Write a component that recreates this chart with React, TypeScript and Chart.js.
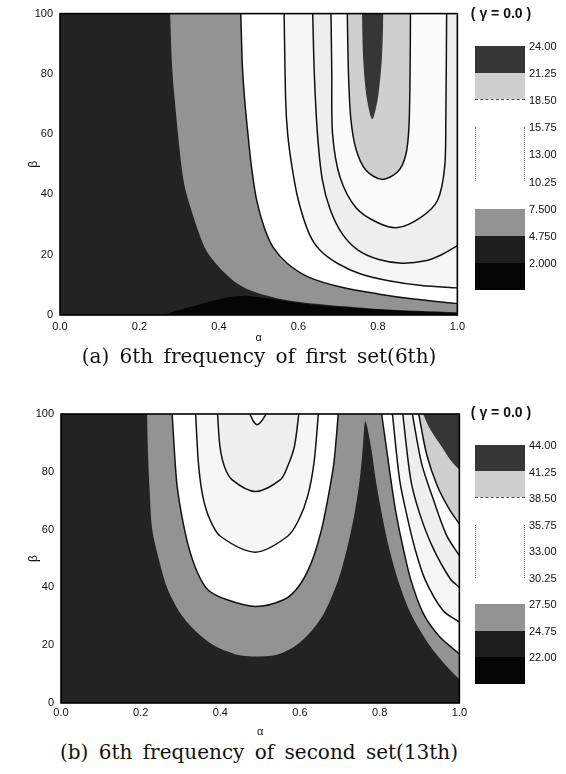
import React, { useEffect, useRef } from 'react';
import { Chart, registerables } from 'chart.js';

Chart.register(...registerables);

// ---------- shared ticks ----------
const xTickValues = [0, 0.2, 0.4, 0.6, 0.8, 1.0];
const xTickLabels = ['0.0', '0.2', '0.4', '0.6', '0.8', '1.0'];
const yTickValues = [0, 20, 40, 60, 80, 100];
const yTickLabels = ['0', '20', '40', '60', '80', '100'];

// ---------- chart (a): contour curves [alpha, beta] ----------
const a_c200 = [[0.26, 0], [0.32, 2.4], [0.38, 4.6], [0.44, 6.2], [0.5, 5.9], [0.6, 4.0], [0.7, 2.7], [0.85, 1.5], [1.0, 0.6]];
const a_c475 = [[0.277, 100], [0.282, 82.5], [0.289, 71], [0.297, 60], [0.306, 49], [0.314, 42.5], [0.323, 38], [0.336, 32.5], [0.35, 27], [0.368, 21.4], [0.4, 15.9], [0.436, 11.4], [0.48, 8.1], [0.555, 5.3], [0.645, 3.7], [0.8, 2.0], [1.0, 0.9]];
const a_c750 = [[0.455, 100], [0.459, 82.5], [0.465, 71], [0.473, 60], [0.482, 49], [0.495, 38], [0.514, 29], [0.536, 22.5], [0.573, 17], [0.627, 12.5], [0.709, 9.2], [0.8, 7], [0.89, 5.3], [1.0, 3.8]];
const a_c1025 = [[0.564, 100], [0.568, 71], [0.573, 60], [0.584, 49], [0.6, 38], [0.627, 27], [0.655, 21.4], [0.7, 17], [0.755, 13.7], [0.827, 11.4], [0.91, 9.8], [1.0, 9.0]];
const a_c1300 = [[0.636, 100], [0.64, 80], [0.648, 60], [0.66, 45], [0.68, 35], [0.71, 27], [0.75, 21.5], [0.8, 18.5], [0.86, 17.2], [0.92, 18], [0.96, 20], [1.0, 23]];
const a_c1575 = [[0.682, 100], [0.684, 80], [0.686, 60], [0.705, 45.6], [0.745, 35.6], [0.8, 30.6], [0.85, 29], [0.909, 32.5], [0.95, 38], [0.968, 49], [0.971, 65], [0.973, 100]];
const a_c1850 = [[0.723, 100], [0.726, 80], [0.732, 65], [0.745, 55], [0.77, 48], [0.81, 45], [0.85, 47.5], [0.87, 53], [0.878, 62], [0.881, 80], [0.882, 100]];
const a_c2125 = [[0.76, 100], [0.763, 85], [0.772, 72], [0.786, 65], [0.8, 72], [0.81, 85], [0.814, 100]];

const a_levels = ['24.00', '21.25', '18.50', '15.75', '13.00', '10.25', '7.500', '4.750', '2.000'];

// ---------- chart (b): contour curves [alpha, beta] ----------
const b_c2475 = [[0.216, 100], [0.218, 88], [0.222, 75], [0.229, 60], [0.248, 48.4], [0.266, 40], [0.3, 31], [0.343, 24.2], [0.388, 19.6], [0.442, 16.7], [0.488, 16.1], [0.542, 16.7], [0.587, 19.6], [0.624, 24.2], [0.66, 31], [0.696, 42.6], [0.719, 54], [0.737, 65.7], [0.75, 77.3], [0.758, 88.8], [0.764, 97.5], [0.778, 88.8], [0.79, 77.3], [0.805, 65.7], [0.823, 54], [0.846, 42.6], [0.878, 31], [0.927, 19.6], [0.968, 12.7], [1.0, 8.1]];
const b_c2750 = [[0.279, 100], [0.29, 77], [0.302, 65.7], [0.32, 54.2], [0.343, 45], [0.37, 39], [0.415, 35.8], [0.488, 33.4], [0.56, 35.8], [0.597, 40.4], [0.628, 48.4], [0.654, 60], [0.671, 71.5], [0.685, 83], [0.696, 100]];
const b_c2750r = [[0.805, 100], [0.828, 77.3], [0.841, 65.7], [0.858, 54.2], [0.878, 42.7], [0.909, 31.1], [0.95, 23], [1.0, 17]];
const b_c3025 = [[0.338, 100], [0.345, 83], [0.356, 71.5], [0.374, 63.4], [0.4, 57.7], [0.488, 52.2], [0.569, 57.7], [0.597, 63.4], [0.619, 71.5], [0.635, 83], [0.646, 100]];
const b_c3025r = [[0.832, 100], [0.85, 77.3], [0.867, 65.7], [0.887, 54.2], [0.914, 42.7], [0.959, 32], [1.0, 28]];
const b_c3300 = [[0.393, 100], [0.399, 88.8], [0.41, 81.9], [0.429, 77.3], [0.488, 73.2], [0.551, 77.3], [0.569, 81.9], [0.586, 88.8], [0.597, 100]];
const b_c3300r = [[0.858, 100], [0.878, 77.3], [0.9, 65.7], [0.932, 54.2], [0.977, 43], [1.0, 40]];
const b_c3575 = [[0.474, 100], [0.483, 97.5], [0.492, 96.3], [0.503, 97.5], [0.515, 100]];
const b_c3575r = [[0.882, 100], [0.905, 83], [0.932, 71.5], [0.968, 58], [1.0, 51]];
const b_c3850r = [[0.898, 100], [0.918, 86], [0.945, 75], [0.975, 67], [1.0, 62]];
const b_c4125r = [[0.909, 100], [0.927, 94.6], [0.955, 88.8], [0.977, 84.2], [1.0, 80.7]];

const b_levels = ['44.00', '41.25', '38.50', '35.75', '33.00', '30.25', '27.50', '24.75', '22.00'];

// ---------- styles ----------
const FONT = 'Liberation Sans, Arial, sans-serif';
const C = {
  black: '#050505',
  base: '#232323',
  gray: '#939393',
  white: '#ffffff',
  dot1: '#f6f6f6',
  dot2: '#eeeeee',
  white2: '#fbfbfb',
  light: '#cfcfcf',
  dark: '#363636',
};

type Layer = { data: number[][]; fill: string; color: string; line: boolean };

const aLayers: Layer[] = [
  { data: a_c200, fill: 'start', color: C.black, line: false },
  { data: a_c475, fill: 'end', color: C.gray, line: false },
  { data: a_c750, fill: 'end', color: C.white, line: true },
  { data: a_c1025, fill: 'end', color: C.dot1, line: true },
  { data: a_c1300, fill: 'end', color: C.dot2, line: true },
  { data: a_c1575, fill: 'end', color: C.white2, line: true },
  { data: a_c1850, fill: 'end', color: C.light, line: true },
  { data: a_c2125, fill: 'end', color: C.dark, line: false },
];

const bLayers: Layer[] = [
  { data: b_c2475, fill: 'end', color: C.gray, line: false },
  { data: b_c2750, fill: 'end', color: C.white, line: true },
  { data: b_c2750r, fill: 'end', color: C.white, line: true },
  { data: b_c3025, fill: 'end', color: C.dot1, line: true },
  { data: b_c3025r, fill: 'end', color: C.dot1, line: true },
  { data: b_c3300, fill: 'end', color: C.dot2, line: true },
  { data: b_c3300r, fill: 'end', color: C.dot2, line: true },
  { data: b_c3575, fill: 'end', color: C.white2, line: true },
  { data: b_c3575r, fill: 'end', color: C.white2, line: true },
  { data: b_c3850r, fill: 'end', color: C.light, line: true },
  { data: b_c4125r, fill: 'end', color: C.dark, line: false },
];

type Geo = {
  top: number; width: number; height: number;
  padTop: number; padRight: number; yAxisW: number; xAxisH: number;
  tickPadX: number; titlePadX: number; baseColor: string;
};

const plotBg = {
  id: 'plotBg',
  beforeDraw(chart: any, _a: any, opts: any) {
    const { ctx, chartArea: a } = chart;
    ctx.save();
    ctx.fillStyle = opts.color;
    ctx.fillRect(a.left, a.top, a.right - a.left, a.bottom - a.top);
    ctx.restore();
  },
};

const frame = {
  id: 'frame',
  afterDatasetsDraw(chart: any) {
    const { ctx, chartArea: a } = chart;
    ctx.save();
    ctx.strokeStyle = '#000';
    ctx.lineWidth = 1.6;
    ctx.strokeRect(a.left, a.top, a.right - a.left, a.bottom - a.top);
    ctx.restore();
  },
};

function makeConfig(layers: Layer[], g: Geo): any {
  const datasets = layers
    .map((l) => ({
      data: l.data.map(([x, y]) => ({ x, y })),
      fill: l.fill,
      backgroundColor: l.color,
      borderColor: l.line ? '#111' : 'rgba(0,0,0,0)',
      borderWidth: l.line ? 1.5 : 1,
      pointRadius: 0,
      tension: 0.3,
    }))
    .reverse();
  const tickFont = { family: FONT, size: 11 };
  return {
    type: 'line',
    data: { datasets },
    plugins: [plotBg, frame],
    options: {
      responsive: false,
      animation: false,
      events: [],
      layout: { padding: { top: g.padTop, right: g.padRight, left: 0, bottom: 0 } },
      plugins: {
        legend: { display: false },
        tooltip: { enabled: false },
        filler: { drawTime: 'beforeDatasetsDraw' },
        plotBg: { color: g.baseColor },
      },
      scales: {
        x: {
          type: 'linear',
          min: 0,
          max: 1,
          afterBuildTicks: (s: any) => { s.ticks = xTickValues.map((v) => ({ value: v })); },
          afterFit: (s: any) => { s.height = g.xAxisH; },
          ticks: { callback: (_v: any, i: number) => xTickLabels[i], font: tickFont, color: '#111', padding: g.tickPadX, maxRotation: 0, autoSkip: false },
          grid: { display: false, drawTicks: false },
          border: { display: false },
          title: { display: true, text: 'α', font: { family: FONT, size: 11 }, color: '#111', padding: { top: 0, bottom: g.titlePadX } },
        },
        y: {
          type: 'linear',
          min: 0,
          max: 100,
          afterBuildTicks: (s: any) => { s.ticks = yTickValues.map((v) => ({ value: v })); },
          afterFit: (s: any) => { s.width = g.yAxisW; },
          ticks: { callback: (_v: any, i: number) => yTickLabels[i], font: tickFont, color: '#111', padding: 7, autoSkip: false },
          grid: { display: false, drawTicks: false },
          border: { display: false },
          title: { display: true, text: 'β', font: { family: FONT, size: 12 }, color: '#111', padding: { top: 26, bottom: 0 } },
        },
      },
    },
  };
}

function ContourChart({ layers, g }: { layers: Layer[]; g: Geo }) {
  const ref = useRef<HTMLCanvasElement | null>(null);
  useEffect(() => {
    const chart = new Chart(ref.current as HTMLCanvasElement, makeConfig(layers, g));
    return () => chart.destroy();
  }, []);
  return (
    <canvas
      ref={ref}
      width={g.width}
      height={g.height}
      style={{ position: 'absolute', left: 0, top: g.top, width: g.width, height: g.height }}
    />
  );
}

type Seg = { color: string };

function ColorScale({ top, step, labels, boxes }: { top: number; step: number; labels: string[]; boxes: { from: number; segs: Seg[]; sideDots?: boolean; bottomDots?: boolean }[] }) {
  return (
    <>
      {boxes.map((b, bi) => (
        <div
          key={'b' + bi}
          style={{
            position: 'absolute', left: 475, width: 50, top: top + b.from * step,
            height: b.segs.length * step,
            boxSizing: 'border-box',
            borderLeft: b.sideDots ? '1px dotted #777' : 'none',
            borderRight: b.sideDots ? '1px dotted #777' : 'none',
            borderBottom: b.bottomDots ? '1px dashed #555' : 'none',
            display: 'flex', flexDirection: 'column',
          }}
        >
          {b.segs.map((s, si) => (
            <div key={si} style={{ flex: 1, background: s.color }} />
          ))}
        </div>
      ))}
      {labels.map((t, i) => (
        <div
          key={'l' + i}
          style={{ position: 'absolute', left: 529, top: top + i * step - 7, height: 14, lineHeight: '14px', fontFamily: FONT, fontSize: 11, color: '#111' }}
        >
          {t}
        </div>
      ))}
    </>
  );
}

const geoA: Geo = { top: 0, width: 470, height: 345, padTop: 13, padRight: 11, yAxisW: 60, xAxisH: 30, tickPadX: 5, titlePadX: 0.4, baseColor: C.base };
const geoB: Geo = { top: 385, width: 470, height: 355, padTop: 29, padRight: 9, yAxisW: 61, xAxisH: 37, tickPadX: 3, titlePadX: 1.4, baseColor: C.base };

const caption: React.CSSProperties = {
  position: 'absolute', left: 0, width: 518, textAlign: 'center', height: 24, lineHeight: '24px',
  fontFamily: 'DejaVu Serif, Liberation Serif, serif', fontSize: 20, wordSpacing: 4, color: '#111', whiteSpace: 'nowrap',
};
const gammaStyle: React.CSSProperties = {
  position: 'absolute', left: 468, width: 66, textAlign: 'center',
  fontFamily: FONT, fontSize: 14, fontWeight: 'bold', color: '#111', whiteSpace: 'pre',
};

export default function App() {
  return (
    <div style={{ position: 'absolute', left: 0, top: 0, width: 566, height: 774, background: '#fff', overflow: 'hidden' }}>
      <ContourChart layers={aLayers} g={geoA} />
      <div style={{ ...gammaStyle, top: 5 }}>( γ = 0.0 )</div>
      <ColorScale
        top={46}
        step={27.1}
        labels={a_levels}
        boxes={[
          { from: 0, segs: [{ color: C.dark }, { color: C.light }], bottomDots: true },
          { from: 3, segs: [{ color: C.white }, { color: C.white }], sideDots: true },
          { from: 6, segs: [{ color: C.gray }, { color: '#1e1e1e' }, { color: C.black }] },
        ]}
      />
      <div style={{ ...caption, top: 344 }}>(a) 6th frequency of first set(6th)</div>

      <ContourChart layers={bLayers} g={geoB} />
      <div style={{ ...gammaStyle, top: 404 }}>( γ = 0.0 )</div>
      <ColorScale
        top={445}
        step={26.5}
        labels={b_levels}
        boxes={[
          { from: 0, segs: [{ color: C.dark }, { color: C.light }], bottomDots: true },
          { from: 3, segs: [{ color: C.white }, { color: C.white }], sideDots: true },
          { from: 6, segs: [{ color: C.gray }, { color: '#1e1e1e' }, { color: C.black }] },
        ]}
      />
      <div style={{ ...caption, top: 740 }}>(b) 6th frequency of second set(13th)</div>
    </div>
  );
}
